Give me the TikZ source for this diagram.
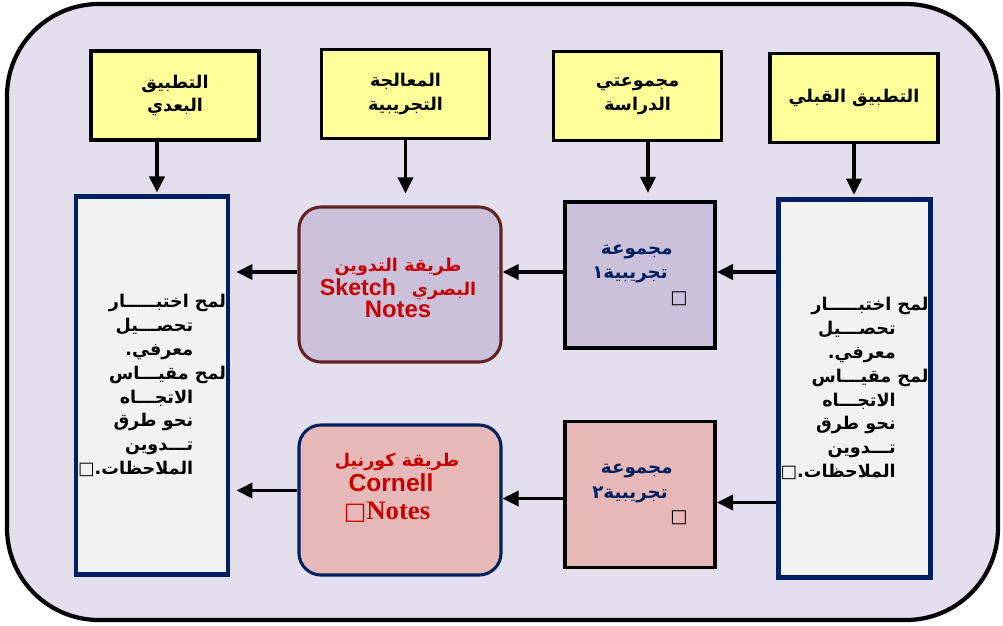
\documentclass[tikz,border=0pt]{standalone}
\usepackage{fontspec}
\usepackage{xcolor}
\usepackage{tikz}
\usetikzlibrary{arrows.meta,positioning}
\TeXXeTstate=1
\newfontfamily\arabicfont[Script=Arabic]{DejaVu Sans}
\newfontfamily\latinsans{Liberation Sans}
\newfontfamily\latinserif{Liberation Serif}
\newfontfamily\symfont{DejaVu Sans}
\newcommand{\artxt}[1]{\beginR#1\endR}
\newcommand{\boxglyph}{{\symfont\mdseries □}}

\definecolor{bgpurple}{RGB}{228,223,236}
\definecolor{headyellow}{RGB}{255,255,153}
\definecolor{testgray}{RGB}{242,242,242}
\definecolor{navy}{RGB}{0,32,96}
\definecolor{lilac}{RGB}{204,193,218}
\definecolor{rose}{RGB}{230,185,184}
\definecolor{brownred}{RGB}{99,37,35}
\definecolor{methodred}{RGB}{200,0,0}

\begin{document}
\begin{tikzpicture}[x=0.025cm, y=-0.025cm,
  head/.style={draw, line width=2.6pt, fill=headyellow, minimum width=4.2cm,
    minimum height=2.225cm, inner sep=0pt, align=center,
    font=\arabicfont\bfseries\fontsize{12.5}{17}\selectfont},
  test/.style={draw=navy, line width=3.5pt, fill=testgray, minimum width=3.8cm,
    minimum height=9.425cm, inner sep=0pt, align=right,
    font=\arabicfont\bfseries\fontsize{12.5}{17}\selectfont},
  grp/.style={draw, line width=2.8pt, minimum width=3.75cm, minimum height=3.65cm,
    inner sep=0pt, align=right, text=navy,
    font=\arabicfont\bfseries\fontsize{13}{17.5}\selectfont},
  method/.style={rounded corners=0.55cm, line width=2.2pt, minimum width=5.05cm,
    minimum height=3.875cm, inner sep=0pt},
  redtxt/.style={text=methodred, align=center, inner sep=0pt},
  arr/.style={-{Triangle[length=0.4cm, width=0.38cm]}, line width=2.2pt},
]

% frame
\draw[line width=3pt, fill=bgpurple, rounded corners=2.3cm] (7,4) rectangle (998,620);
\useasboundingbox (0,0) rectangle (1003,625);

% top row
\node[head] (post)   at (175,95.5) {\artxt{التطبيق}\\\artxt{البعدي}};
\node[head] (treat)  at (405.5,94) {\artxt{المعالجة}\\\artxt{التجريبية}};
\node[head] (groups) at (637.5,96) {\artxt{مجموعتي}\\\artxt{الدراسة}};
\node[head] (pre)    at (854,98)   {\artxt{التطبيق القبلي}};

% tests
\node[test] (posttest) at (152,385.5) {%
  \artxt{لمح اختبـــــار}\\
  \artxt{تحصـــيل}\kern0.82cm\\
  \artxt{معرفي.}\kern0.82cm\\
  \artxt{لمح مقيـــاس}\\
  \artxt{الاتجـــاه}\kern0.82cm\\
  \artxt{نحو طرق}\kern0.82cm\\
  \artxt{تـــدوين}\kern0.82cm\\
  \boxglyph\artxt{الملاحظات.}\kern0.82cm};
\node[test] (pretest) at (854.5,388.5) {%
  \artxt{لمح اختبـــــار}\\
  \artxt{تحصـــيل}\kern0.82cm\\
  \artxt{معرفي.}\kern0.82cm\\
  \artxt{لمح مقيـــاس}\\
  \artxt{الاتجـــاه}\kern0.82cm\\
  \artxt{نحو طرق}\kern0.82cm\\
  \artxt{تـــدوين}\kern0.82cm\\
  \boxglyph\artxt{الملاحظات.}\kern0.82cm};

% groups
\node[grp, fill=lilac] (grpone) at (640,275) {%
  \artxt{مجموعة}\kern0.375cm\\
  \artxt{تجريبية١}\kern0.5cm\\
  {\color{black}\boxglyph}};
\node[grp, fill=rose] (grptwo) at (640,494.5) {%
  \artxt{مجموعة}\kern0.375cm\\
  \artxt{تجريبية٢}\kern0.5cm\\
  {\color{black}\boxglyph}};

% methods
\node[method, draw=brownred, fill=lilac] (sketch) at (400,284.5) {};
\node[method, draw=navy, fill=rose, minimum height=3.75cm] (cornell) at (400,500) {};
\node[redtxt] (sketchtxt) at (398,288) {%
  {\arabicfont\bfseries\fontsize{12.5}{17}\selectfont\artxt{طريقة التدوين}}\\[1pt]
  {\latinsans\bfseries\fontsize{16.5}{17}\selectfont Sketch}\hspace{0.4cm}%
  {\arabicfont\bfseries\fontsize{12.5}{17}\selectfont\artxt{البصري}}\\[0pt]
  {\latinsans\bfseries\fontsize{17}{17}\selectfont Notes}};
\node[redtxt] (cornelltxt) at (391,488) {%
  \hspace*{0.3cm}{\arabicfont\bfseries\fontsize{12.5}{17}\selectfont\artxt{طريقة كورنيل}}\\[1pt]
  {\latinsans\bfseries\fontsize{17.5}{18}\selectfont Cornell}\\[6pt]
  \hspace*{-0.2cm}{\fontsize{17}{18}\selectfont\boxglyph}%
  {\latinserif\bfseries\fontsize{19}{18}\selectfont Notes}};

% arrows down
\draw[arr, shorten >=0.05cm] ([xshift=0.125cm]posttest.north |- post.south) -- ([xshift=0.125cm]posttest.north);
\draw[arr, shorten >=0.3cm] (treat.south) -- (treat.south |- sketch.north);
\draw[arr, shorten >=0.18cm] ([xshift=0.2cm]grpone.north |- groups.south) -- ([xshift=0.2cm]grpone.north);
\draw[arr, shorten >=0.07cm] (pre.south) -- (pre.south |- pretest.north);

% arrows across
\draw[arr] ([yshift=0.075cm]pretest.west |- grpone.east) -- ([yshift=0.075cm]grpone.east);
\draw[arr] ([yshift=0.075cm]grpone.west) -- ([yshift=0.075cm]grpone.west -| sketch.east);
\draw[arr, shorten >=0.15cm] ([yshift=0.075cm]sketch.west |- grpone.west) -- ([yshift=0.075cm]posttest.east |- grpone.west);
\draw[arr] ([yshift=-0.2cm]pretest.west |- grptwo.east) -- ([yshift=-0.2cm]grptwo.east);
\draw[arr] ([yshift=-0.1cm]grptwo.west) -- ([yshift=-0.1cm]grptwo.west -| cornell.east);
\draw[arr, shorten >=0.15cm] ([yshift=0.1cm]cornell.west |- grptwo.west) -- ([yshift=0.1cm]posttest.east |- grptwo.west);

\end{tikzpicture}
\end{document}
